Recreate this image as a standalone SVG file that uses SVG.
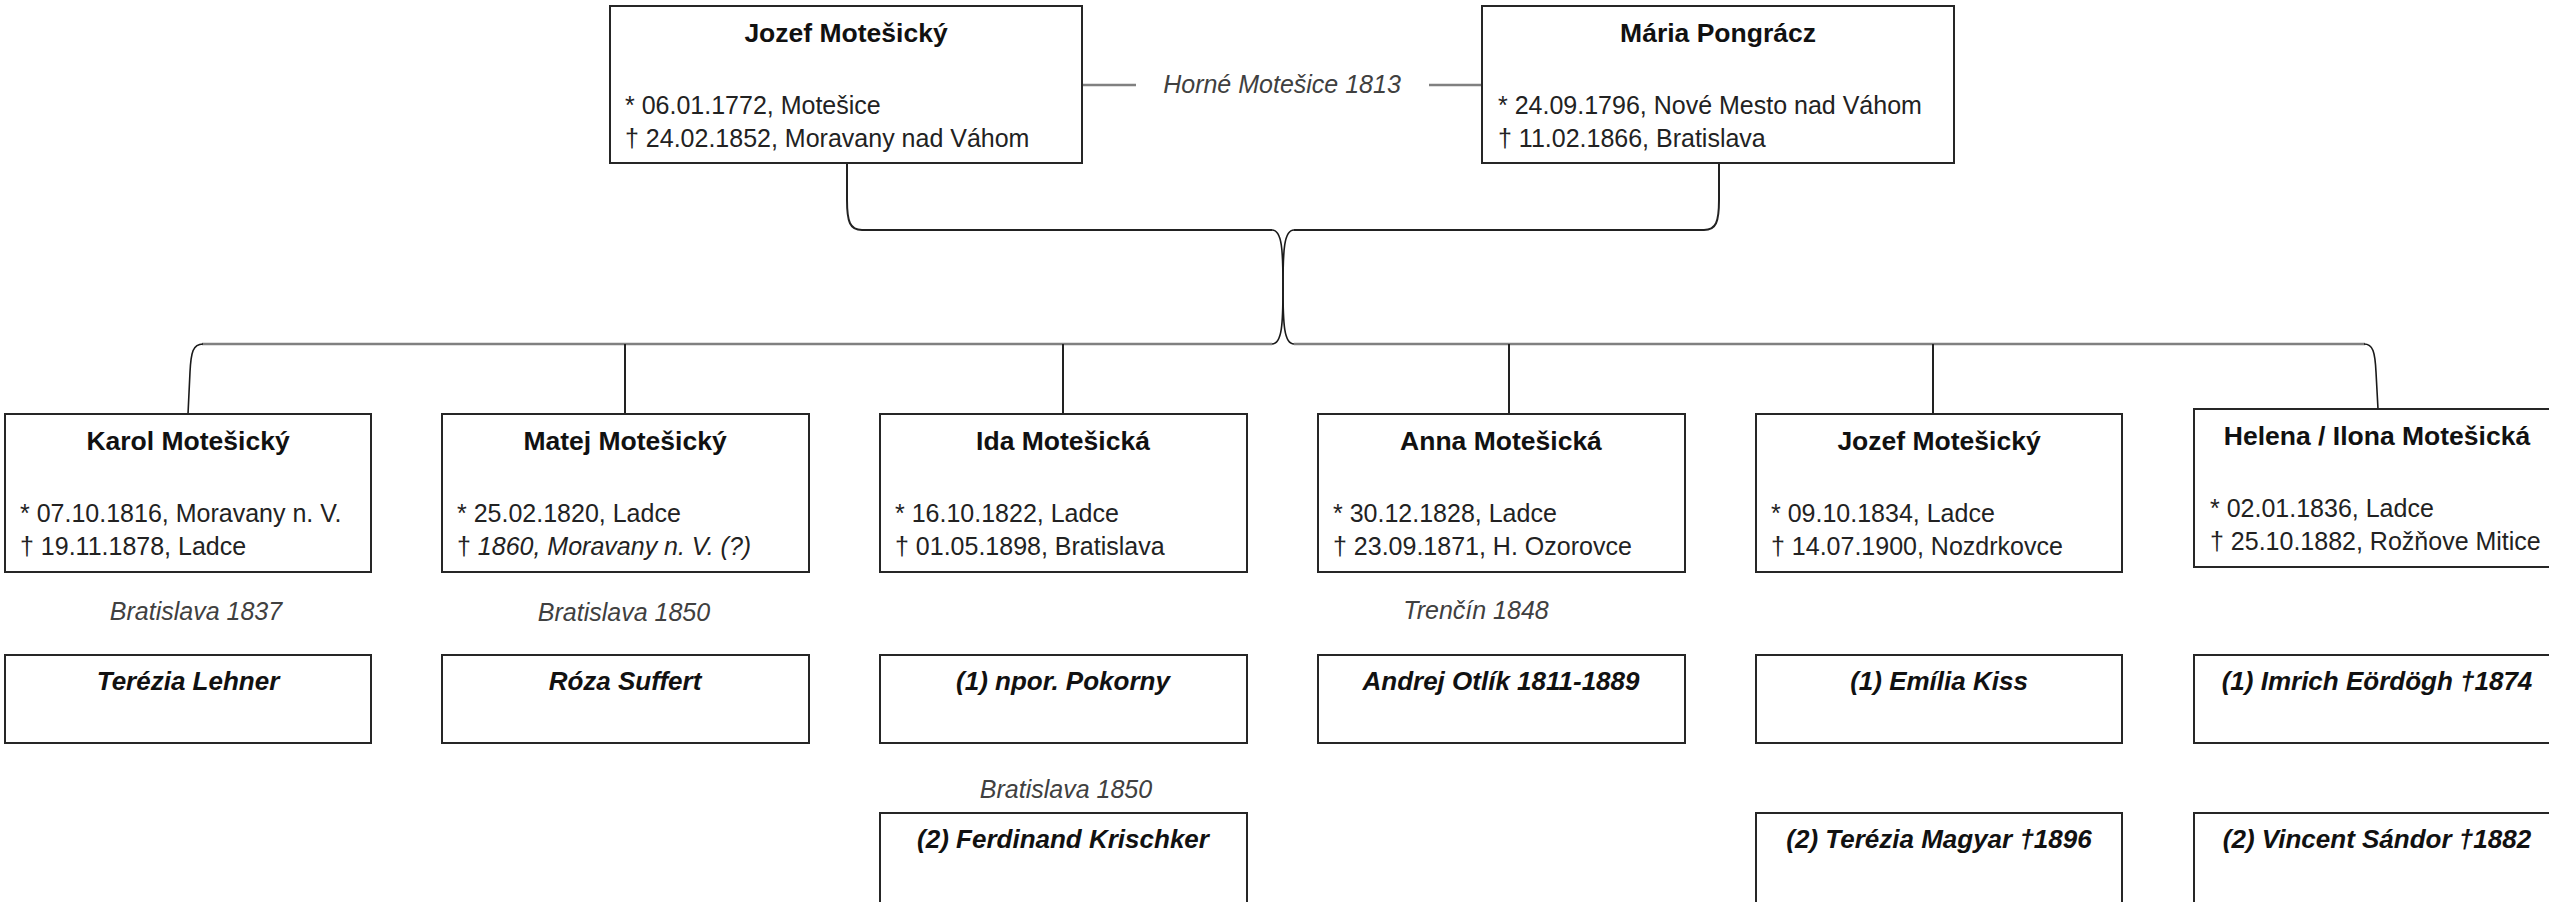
<svg xmlns="http://www.w3.org/2000/svg" width="2549" height="902" viewBox="0 0 2549 902">
<style>
.box{fill:#fff;stroke:#262626;stroke-width:2}
.t{font-family:"Liberation Sans",Arial,sans-serif;font-weight:bold;font-size:26.5px;fill:#111;text-anchor:middle}
.b{font-family:"Liberation Sans",Arial,sans-serif;font-size:25px;fill:#222}
.s{font-family:"Liberation Sans",Arial,sans-serif;font-weight:bold;font-style:italic;font-size:26px;fill:#111;text-anchor:middle}
.l{font-family:"Liberation Sans",Arial,sans-serif;font-style:italic;font-size:25px;fill:#404040;text-anchor:middle}
.c{fill:none;stroke:#222;stroke-width:2}
.g{fill:none;stroke:#808080;stroke-width:2.5}
.k{fill:none;stroke:#1a1a1a;stroke-width:1.6}
</style>
<rect width="2549" height="902" fill="#fff"/>
<g id="connectors">
<path class="c" d="M847,163 L847,200 C847,222 850,230 862,230 L1272,230"/>
<path class="c" d="M1719,163 L1719,200 C1719,222 1716,230 1704,230 L1294,230"/>
<path class="k" d="M1272,230 C1282,230 1283,250 1283,287 C1283,324 1282,344 1272,344"/>
<path class="k" d="M1294,230 C1284,230 1283,250 1283,287 C1283,324 1284,344 1294,344"/>
<path class="g" d="M1272,344 L202,344"/>
<path class="g" d="M1294,344 L2365,344"/>
<path class="k" d="M203,344 C193,344 191,352 190,372 L188,414"/>
<path class="k" d="M2364,344 C2373,344 2375,352 2376,372 L2378,409"/>
<path class="c" d="M625,344 L625,414 M1063,344 L1063,414 M1509,344 L1509,414 M1933,344 L1933,414"/>
<path class="g" d="M1082,85 L1136,85 M1429,85 L1482,85"/>
<text class="l" x="1282" y="93">Horné Motešice 1813</text>
<text class="l" x="196" y="620">Bratislava 1837</text>
<text class="l" x="624" y="621">Bratislava 1850</text>
<text class="l" x="1476" y="619">Trenčín 1848</text>
<text class="l" x="1066" y="798">Bratislava 1850</text>
</g>
<g id="jozef-sr">
<rect class="box" x="610" y="6" width="472" height="157"/>
<text class="t" x="846" y="42">Jozef Motešický</text>
<text class="b" x="625" y="114">* 06.01.1772, Motešice</text>
<text class="b" x="625" y="147">† 24.02.1852, Moravany nad Váhom</text>
</g>
<g id="maria">
<rect class="box" x="1482" y="6" width="472" height="157"/>
<text class="t" x="1718" y="42">Mária Pongrácz</text>
<text class="b" x="1498" y="114">* 24.09.1796, Nové Mesto nad Váhom</text>
<text class="b" x="1498" y="147">† 11.02.1866, Bratislava</text>
</g>
<g id="karol">
<rect class="box" x="5" y="414" width="366" height="158"/>
<text class="t" x="188" y="450">Karol Motešický</text>
<text class="b" x="20" y="522">* 07.10.1816, Moravany n. V.</text>
<text class="b" x="20" y="555">† 19.11.1878, Ladce</text>
</g>
<g id="matej">
<rect class="box" x="442" y="414" width="367" height="158"/>
<text class="t" x="625" y="450">Matej Motešický</text>
<text class="b" x="457" y="522">* 25.02.1820, Ladce</text>
<text class="b" x="457" y="555">† <tspan font-style="italic">1860, Moravany n. V. (?)</tspan></text>
</g>
<g id="ida">
<rect class="box" x="880" y="414" width="367" height="158"/>
<text class="t" x="1063" y="450">Ida Motešická</text>
<text class="b" x="895" y="522">* 16.10.1822, Ladce</text>
<text class="b" x="895" y="555">† 01.05.1898, Bratislava</text>
</g>
<g id="anna">
<rect class="box" x="1318" y="414" width="367" height="158"/>
<text class="t" x="1501" y="450">Anna Motešická</text>
<text class="b" x="1333" y="522">* 30.12.1828, Ladce</text>
<text class="b" x="1333" y="555">† 23.09.1871, H. Ozorovce</text>
</g>
<g id="jozef-jr">
<rect class="box" x="1756" y="414" width="366" height="158"/>
<text class="t" x="1939" y="450">Jozef Motešický</text>
<text class="b" x="1771" y="522">* 09.10.1834, Ladce</text>
<text class="b" x="1771" y="555">† 14.07.1900, Nozdrkovce</text>
</g>
<g id="helena">
<rect class="box" x="2194" y="409" width="367" height="158"/>
<text class="t" x="2377" y="445">Helena / Ilona Motešická</text>
<text class="b" x="2210" y="517">* 02.01.1836, Ladce</text>
<text class="b" x="2210" y="550">† 25.10.1882, Rožňove Mitice</text>
</g>
<g id="terezia-lehner">
<rect class="box" x="5" y="655" width="366" height="88"/>
<text class="s" x="188" y="690">Terézia Lehner</text>
</g>
<g id="roza-suffert">
<rect class="box" x="442" y="655" width="367" height="88"/>
<text class="s" x="625" y="690">Róza Suffert</text>
</g>
<g id="pokorny">
<rect class="box" x="880" y="655" width="367" height="88"/>
<text class="s" x="1063" y="690">(1) npor. Pokorny</text>
</g>
<g id="krischker">
<rect class="box" x="880" y="813" width="367" height="100"/>
<text class="s" x="1063" y="848">(2) Ferdinand Krischker</text>
</g>
<g id="otlik">
<rect class="box" x="1318" y="655" width="367" height="88"/>
<text class="s" x="1501" y="690">Andrej Otlík 1811-1889</text>
</g>
<g id="emilia-kiss">
<rect class="box" x="1756" y="655" width="366" height="88"/>
<text class="s" x="1939" y="690">(1) Emília Kiss</text>
</g>
<g id="terezia-magyar">
<rect class="box" x="1756" y="813" width="366" height="100"/>
<text class="s" x="1939" y="848">(2) Terézia Magyar †1896</text>
</g>
<g id="eordogh">
<rect class="box" x="2194" y="655" width="367" height="88"/>
<text class="s" x="2377" y="690">(1) Imrich Eördögh †1874</text>
</g>
<g id="sandor">
<rect class="box" x="2194" y="813" width="367" height="100"/>
<text class="s" x="2377" y="848">(2) Vincent Sándor †1882</text>
</g>
</svg>
